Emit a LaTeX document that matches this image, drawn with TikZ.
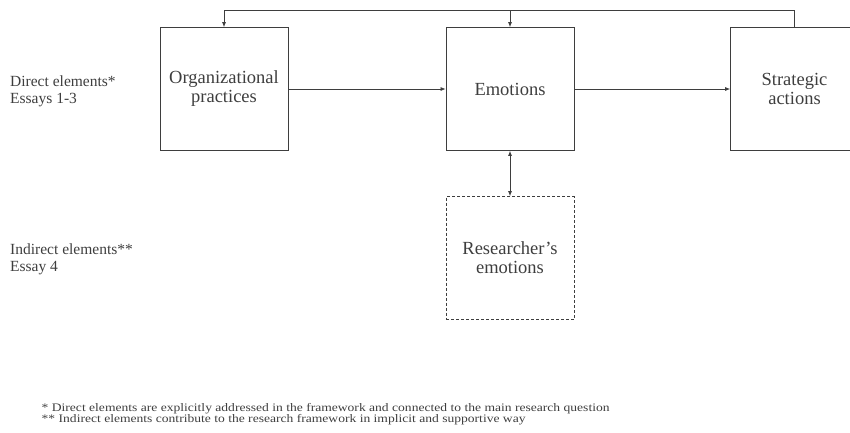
\documentclass[tikz,border=0pt]{standalone}
\usepackage{fontspec}
\setmainfont{Liberation Serif}
\newfontfamily\notefont{Liberation Serif}[FakeStretch=1.18]
\usetikzlibrary{arrows.meta}
\definecolor{inkgray}{RGB}{62,62,62}

\begin{document}
\begin{tikzpicture}[x=1pt,y=-1pt,
  box/.style={draw=inkgray,line width=0.8pt,minimum width=128pt,minimum height=123pt,
    inner sep=0pt,align=center,text=inkgray,font=\fontsize{18.5}{19}\selectfont},
  ghostbox/.style={box,dash pattern=on 3pt off 2pt},
  flow/.style={draw=inkgray,line width=0.7pt,-{Latex[length=5pt,width=4pt]}},
  tag/.style={anchor=west,align=left,inner sep=0pt,text=inkgray,font=\fontsize{15.5}{17}\selectfont},
  note/.style={anchor=west,align=left,inner sep=0pt,text=inkgray,font=\notefont\fontsize{11.5}{11}\selectfont}]
\clip (0,0) rectangle (850,432);
% boxes
\node[box] (org) at (224,89) {Organizational\\practices};
\node[box] (emo) at (510,89) {Emotions};
\node[box] (sa) at (794.5,89) {Strategic\\actions};
\node[ghostbox] (res) at (510,258) {Researcher’s\\emotions};
% side labels
\node[tag] (direct) at (10,91) {Direct elements*\\Essays 1-3};
\node[tag] (indirect) at (10,259) {Indirect elements**\\Essay 4};
% connectors
\coordinate (top) at (0,10.3);
\draw[flow] (org) -- (emo);
\draw[flow] (emo) -- (sa);
\draw[flow,{Latex[length=5pt,width=4pt]}-{Latex[length=5pt,width=4pt]}] (emo) -- (res);
\draw[flow] (sa.north) |- (top -| org.north) -- (org.north);
\draw[flow] (top -| emo.north) -- (emo.north);
% footnotes
\node[note] (notes) at (41.5,414) {* Direct elements are explicitly addressed in the framework and connected to the main research question\\
** Indirect elements contribute to the research framework in implicit and supportive way};
\end{tikzpicture}
\end{document}
